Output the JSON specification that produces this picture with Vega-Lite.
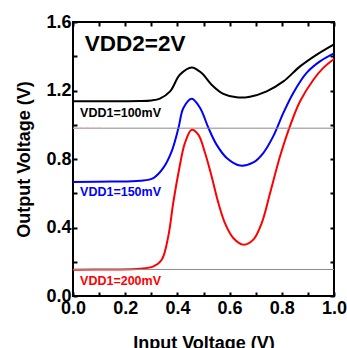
{
  "$schema": "https://vega.github.io/schema/vega-lite/v6.json",
  "width": 261,
  "height": 274,
  "autosize": {"type": "none"},
  "padding": {"left": 73, "top": 22, "right": 13, "bottom": 52},
  "background": "white",
  "config": {
    "view": {"stroke": "black", "strokeWidth": 2},
    "font": "Liberation Sans",
    "axis": {
      "domain": false,
      "grid": false,
      "tickColor": "black",
      "tickWidth": 2,
      "tickSize": -4,
      "labelFont": "Liberation Sans",
      "labelFontWeight": "bold",
      "labelFontSize": 18,
      "labelColor": "black",
      "titleFont": "Liberation Sans",
      "titleFontWeight": "bold",
      "titleFontSize": 18,
      "titleColor": "black"
    }
  },
  "datasets": {
    "curves": [
      {"vin": 0.0, "vout": 1.137, "vdd1": "100mV"},
      {"vin": 0.15, "vout": 1.137, "vdd1": "100mV"},
      {"vin": 0.257, "vout": 1.138, "vdd1": "100mV"},
      {"vin": 0.3, "vout": 1.142, "vdd1": "100mV"},
      {"vin": 0.333, "vout": 1.153, "vdd1": "100mV"},
      {"vin": 0.372, "vout": 1.195, "vdd1": "100mV"},
      {"vin": 0.41, "vout": 1.293, "vdd1": "100mV"},
      {"vin": 0.455, "vout": 1.335, "vdd1": "100mV"},
      {"vin": 0.493, "vout": 1.302, "vdd1": "100mV"},
      {"vin": 0.531, "vout": 1.234, "vdd1": "100mV"},
      {"vin": 0.576, "vout": 1.18, "vdd1": "100mV"},
      {"vin": 0.627, "vout": 1.16, "vdd1": "100mV"},
      {"vin": 0.678, "vout": 1.164, "vdd1": "100mV"},
      {"vin": 0.742, "vout": 1.195, "vdd1": "100mV"},
      {"vin": 0.806, "vout": 1.253, "vdd1": "100mV"},
      {"vin": 0.87, "vout": 1.341, "vdd1": "100mV"},
      {"vin": 0.934, "vout": 1.41, "vdd1": "100mV"},
      {"vin": 1.0, "vout": 1.47, "vdd1": "100mV"},

      {"vin": 0.0, "vout": 0.666, "vdd1": "150mV"},
      {"vin": 0.15, "vout": 0.668, "vdd1": "150mV"},
      {"vin": 0.257, "vout": 0.673, "vdd1": "150mV"},
      {"vin": 0.308, "vout": 0.689, "vdd1": "150mV"},
      {"vin": 0.346, "vout": 0.748, "vdd1": "150mV"},
      {"vin": 0.378, "vout": 0.845, "vdd1": "150mV"},
      {"vin": 0.404, "vout": 0.981, "vdd1": "150mV"},
      {"vin": 0.423, "vout": 1.098, "vdd1": "150mV"},
      {"vin": 0.455, "vout": 1.152, "vdd1": "150mV"},
      {"vin": 0.487, "vout": 1.098, "vdd1": "150mV"},
      {"vin": 0.519, "vout": 0.981, "vdd1": "150mV"},
      {"vin": 0.55, "vout": 0.884, "vdd1": "150mV"},
      {"vin": 0.589, "vout": 0.806, "vdd1": "150mV"},
      {"vin": 0.64, "vout": 0.762, "vdd1": "150mV"},
      {"vin": 0.691, "vout": 0.78, "vdd1": "150mV"},
      {"vin": 0.729, "vout": 0.835, "vdd1": "150mV"},
      {"vin": 0.767, "vout": 0.932, "vdd1": "150mV"},
      {"vin": 0.806, "vout": 1.069, "vdd1": "150mV"},
      {"vin": 0.844, "vout": 1.186, "vdd1": "150mV"},
      {"vin": 0.895, "vout": 1.303, "vdd1": "150mV"},
      {"vin": 0.946, "vout": 1.37, "vdd1": "150mV"},
      {"vin": 1.0, "vout": 1.417, "vdd1": "150mV"},

      {"vin": 0.0, "vout": 0.154, "vdd1": "200mV"},
      {"vin": 0.15, "vout": 0.155, "vdd1": "200mV"},
      {"vin": 0.257, "vout": 0.159, "vdd1": "200mV"},
      {"vin": 0.308, "vout": 0.173, "vdd1": "200mV"},
      {"vin": 0.34, "vout": 0.212, "vdd1": "200mV"},
      {"vin": 0.365, "vout": 0.348, "vdd1": "200mV"},
      {"vin": 0.384, "vout": 0.543, "vdd1": "200mV"},
      {"vin": 0.404, "vout": 0.718, "vdd1": "200mV"},
      {"vin": 0.429, "vout": 0.894, "vdd1": "200mV"},
      {"vin": 0.455, "vout": 0.971, "vdd1": "200mV"},
      {"vin": 0.48, "vout": 0.942, "vdd1": "200mV"},
      {"vin": 0.506, "vout": 0.835, "vdd1": "200mV"},
      {"vin": 0.531, "vout": 0.699, "vdd1": "200mV"},
      {"vin": 0.557, "vout": 0.543, "vdd1": "200mV"},
      {"vin": 0.582, "vout": 0.426, "vdd1": "200mV"},
      {"vin": 0.614, "vout": 0.339, "vdd1": "200mV"},
      {"vin": 0.653, "vout": 0.3, "vdd1": "200mV"},
      {"vin": 0.691, "vout": 0.329, "vdd1": "200mV"},
      {"vin": 0.723, "vout": 0.426, "vdd1": "200mV"},
      {"vin": 0.755, "vout": 0.6, "vdd1": "200mV"},
      {"vin": 0.793, "vout": 0.815, "vdd1": "200mV"},
      {"vin": 0.831, "vout": 0.991, "vdd1": "200mV"},
      {"vin": 0.87, "vout": 1.137, "vdd1": "200mV"},
      {"vin": 0.921, "vout": 1.263, "vdd1": "200mV"},
      {"vin": 0.959, "vout": 1.332, "vdd1": "200mV"},
      {"vin": 1.0, "vout": 1.384, "vdd1": "200mV"}
    ],
    "levels": [
      {"level": 0.98},
      {"level": 0.155}
    ],
    "labels": [
      {"vin": 0.027, "vout": 1.07, "text": "VDD1=100mV", "vdd1": "100mV"},
      {"vin": 0.027, "vout": 0.61, "text": "VDD1=150mV", "vdd1": "150mV"},
      {"vin": 0.027, "vout": 0.09, "text": "VDD1=200mV", "vdd1": "200mV"}
    ],
    "heading": [
      {"vin": 0.045, "vout": 1.47, "text": "VDD2=2V"}
    ],
    "marker": [
      {"from": 0.0, "to": 0.115, "level": 0.98}
    ]
  },
  "resolve": {"axis": {"x": "independent", "y": "independent"}},
  "layer": [
    {
      "data": {"name": "curves"},
      "mark": {"type": "line", "strokeWidth": 2, "interpolate": "catmull-rom"},
      "encoding": {
        "x": {
          "field": "vin", "type": "quantitative",
          "scale": {"domain": [0, 1], "nice": false},
          "axis": {
            "orient": "bottom",
            "title": "Input Voltage (V)",
            "values": [0, 0.1, 0.2, 0.3, 0.4, 0.5, 0.6, 0.7, 0.8, 0.9, 1.0],
            "labelExpr": "(round(datum.value * 10) % 2 == 0) ? format(datum.value, '.1f') : ''",
            "labelPadding": 7,
            "labelFlush": false,
            "labelOverlap": false,
            "titlePadding": 17
          }
        },
        "y": {
          "field": "vout", "type": "quantitative",
          "scale": {"domain": [0, 1.6], "nice": false},
          "axis": {
            "orient": "left",
            "title": "Output Voltage (V)",
            "values": [0, 0.2, 0.4, 0.6, 0.8, 1.0, 1.2, 1.4, 1.6],
            "labelExpr": "(round(datum.value * 10) % 4 == 0) ? format(datum.value, '.1f') : ''",
            "labelPadding": 6,
            "labelFlush": false,
            "labelOverlap": false,
            "titlePadding": 12
          }
        },
        "color": {
          "field": "vdd1", "type": "nominal",
          "scale": {"domain": ["100mV", "150mV", "200mV"], "range": ["#000000", "#0000ff", "#ff0000"]},
          "legend": null
        },
        "order": {"field": "vin", "type": "quantitative"}
      }
    },
    {
      "data": {"name": "levels"},
      "mark": {"type": "rule", "color": "#8a8a8a", "strokeWidth": 1},
      "encoding": {
        "y": {
          "field": "level", "type": "quantitative",
          "scale": {"domain": [0, 1.6], "nice": false},
          "axis": {
            "orient": "right",
            "title": null,
            "labels": false,
            "values": [0, 0.2, 0.4, 0.6, 0.8, 1.0, 1.2, 1.4, 1.6]
          }
        }
      }
    },
    {
      "data": {"name": "marker"},
      "mark": {"type": "rule", "color": "#f2a0a0", "strokeWidth": 1, "strokeDash": [4, 2]},
      "encoding": {
        "x": {
          "field": "from", "type": "quantitative",
          "scale": {"domain": [0, 1], "nice": false},
          "axis": {
            "orient": "top",
            "title": null,
            "labels": false,
            "values": [0, 0.1, 0.2, 0.3, 0.4, 0.5, 0.6, 0.7, 0.8, 0.9, 1.0]
          }
        },
        "x2": {"field": "to"},
        "y": {"field": "level", "type": "quantitative", "scale": {"domain": [0, 1.6], "nice": false}, "axis": null}
      }
    },
    {
      "data": {"name": "labels"},
      "mark": {"type": "text", "align": "left", "baseline": "middle", "fontSize": 12.5, "fontWeight": "bold", "font": "Liberation Sans"},
      "encoding": {
        "x": {"field": "vin", "type": "quantitative", "scale": {"domain": [0, 1], "nice": false}, "axis": null},
        "y": {"field": "vout", "type": "quantitative", "scale": {"domain": [0, 1.6], "nice": false}, "axis": null},
        "text": {"field": "text"},
        "color": {
          "field": "vdd1", "type": "nominal",
          "scale": {"domain": ["100mV", "150mV", "200mV"], "range": ["#000000", "#0000ff", "#ff0000"]},
          "legend": null
        }
      }
    },
    {
      "data": {"name": "heading"},
      "mark": {"type": "text", "align": "left", "baseline": "middle", "fontSize": 22.5, "fontWeight": "bold", "font": "Liberation Sans", "color": "black"},
      "encoding": {
        "x": {"field": "vin", "type": "quantitative", "scale": {"domain": [0, 1], "nice": false}, "axis": null},
        "y": {"field": "vout", "type": "quantitative", "scale": {"domain": [0, 1.6], "nice": false}, "axis": null},
        "text": {"field": "text"}
      }
    }
  ]
}
